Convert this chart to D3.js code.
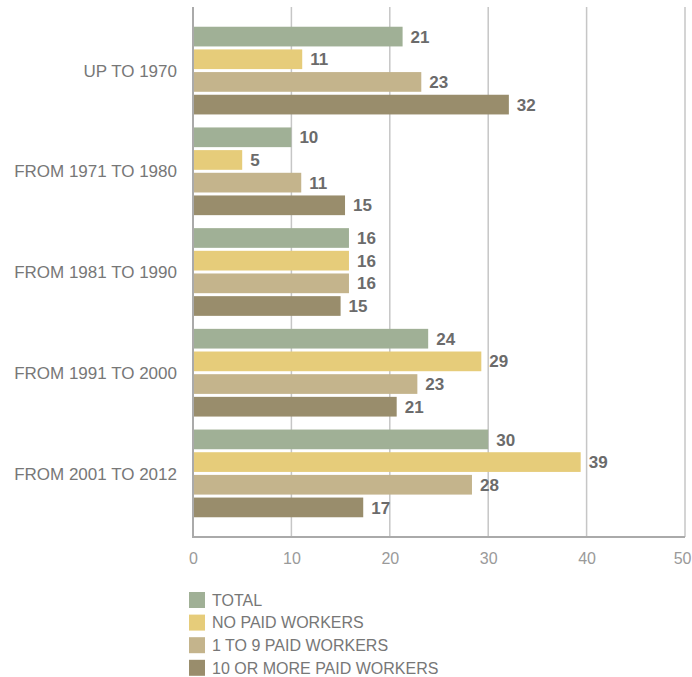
<!DOCTYPE html>
<html>
<head>
  <meta charset="utf-8">
  <style>
    body { margin: 0; background: #fff; }
    svg text { font-family: "Liberation Sans", Arial, sans-serif; }
    .grid line { stroke: #c6c6c6; stroke-width: 1.5px; }
    .axisLine { stroke: #aaa; stroke-width: 2px; }
    .tick text { fill: #9a9a9a; font-size: 16px; }
    .cat { fill: #777; font-size: 17px; }
    .val { fill: #6b6b6b; font-size: 17px; font-weight: bold; }
    .legend text { fill: #777; font-size: 16px; }
  </style>
  <script src="https://cdn.jsdelivr.net/npm/d3@7"></script>
</head>
<body>
  <div id="graph"></div>
  <script>
    // data
    var categories = ["UP TO 1970", "FROM 1971 TO 1980", "FROM 1981 TO 1990", "FROM 1991 TO 2000", "FROM 2001 TO 2012"];
    var seriesNames = ["TOTAL", "NO PAID WORKERS", "1 TO 9 PAID WORKERS", "10 OR MORE PAID WORKERS"];
    var total = [21.3, 10.0, 15.85, 23.9, 30.0];
    var noPaid = [11.1, 5.0, 15.85, 29.3, 39.4];
    var oneToNine = [23.2, 11.0, 15.85, 22.8, 28.35];
    var tenOrMore = [32.1, 15.45, 15.0, 20.7, 17.3];
    var xTicks = [0, 10, 20, 30, 40, 50];
    var colors = ["#a0b096", "#e6cc7a", "#c4b48c", "#998d6c"];

    var seriesValues = [total, noPaid, oneToNine, tenOrMore];

    var width = 692, height = 677;
    var plotLeft = 193, plotRight = 685, plotTop = 7, plotBottom = 537;

    var svg = d3.select("#graph").append("svg")
      .attr("width", width)
      .attr("height", height);

    var x = d3.scaleLinear().domain([0, 50]).range([plotLeft, plotRight]);

    var y0 = d3.scaleBand()
      .domain(categories)
      .range([plotTop, plotBottom])
      .paddingInner(0.129)
      .paddingOuter(0.196);

    var y1 = d3.scaleBand()
      .domain(seriesNames)
      .range([0, y0.bandwidth()])
      .paddingInner(0.131);

    // gridlines
    svg.append("g")
      .attr("class", "grid")
      .selectAll("line")
      .data(xTicks.slice(1))
      .enter().append("line")
      .attr("x1", d => x(d))
      .attr("x2", d => x(d))
      .attr("y1", plotTop)
      .attr("y2", plotBottom);

    // x axis labels
    var xAxis = d3.axisBottom(x).tickValues(xTicks).tickSize(0).tickPadding(16);
    var gx = svg.append("g")
      .attr("transform", "translate(0," + plotBottom + ")")
      .call(xAxis);
    gx.select(".domain").remove();
    gx.attr("font-size", null).attr("font-family", null);
    gx.selectAll("text").attr("fill", null);
    // keep the last label inside the window
    gx.selectAll(".tick").filter(d => d === 50).select("text")
      .attr("text-anchor", "end").attr("x", 691 - x(50));

    // bars
    var groups = svg.selectAll(".group")
      .data(categories)
      .enter().append("g")
      .attr("class", "group")
      .attr("transform", d => "translate(0," + y0(d) + ")");

    groups.each(function(cat, ci) {
      var g = d3.select(this);
      var rows = seriesNames.map((s, si) => ({ s: s, i: si, v: seriesValues[si][ci] }));

      g.selectAll("rect")
        .data(rows)
        .enter().append("rect")
        .attr("x", x(0))
        .attr("y", d => y1(d.s))
        .attr("width", d => x(d.v) - x(0))
        .attr("height", y1.bandwidth())
        .attr("fill", d => colors[d.i]);

      g.selectAll("text.val")
        .data(rows)
        .enter().append("text")
        .attr("class", "val")
        .attr("x", d => x(d.v) + 8)
        .attr("y", d => y1(d.s) + y1.bandwidth() / 2)
        .attr("dy", "0.36em")
        .text(d => Math.round(d.v));
    });

    // category labels
    svg.selectAll("text.cat")
      .data(categories)
      .enter().append("text")
      .attr("class", "cat")
      .attr("x", 177)
      .attr("y", d => y0(d) + y0.bandwidth() / 2)
      .attr("dy", "0.36em")
      .attr("text-anchor", "end")
      .text(d => d);

    // axis lines
    svg.append("line").attr("class", "axisLine")
      .attr("x1", plotLeft).attr("x2", plotLeft)
      .attr("y1", plotTop).attr("y2", plotBottom + 1);
    svg.append("line").attr("class", "axisLine")
      .attr("x1", plotLeft).attr("x2", plotRight)
      .attr("y1", plotBottom).attr("y2", plotBottom);

    // legend
    var legend = svg.append("g")
      .attr("class", "legend")
      .selectAll("g")
      .data(seriesNames)
      .enter().append("g")
      .attr("transform", (d, i) => "translate(189," + (592 + i * 22.6) + ")");

    legend.append("rect")
      .attr("width", 16)
      .attr("height", 16)
      .attr("fill", (d, i) => colors[i]);

    legend.append("text")
      .attr("x", 23)
      .attr("y", 8)
      .attr("dy", "0.36em")
      .text(d => d);
  </script>
</body>
</html>
